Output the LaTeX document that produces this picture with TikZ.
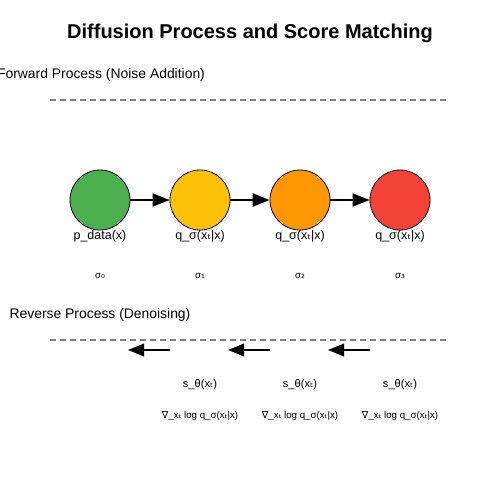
\documentclass[tikz,border=0pt]{standalone}
\usepackage{fontspec}
\setmainfont{Liberation Sans}
\newfontfamily\djv{DejaVu Sans}
\usetikzlibrary{arrows.meta}
\definecolor{cgreen}{HTML}{4CAF50}
\definecolor{cyellow}{HTML}{FFC107}
\definecolor{corange}{HTML}{FF9800}
\definecolor{cred}{HTML}{F44336}
\newcommand{\sbt}{{\djv ₜ}}
\newcommand{\nab}{{\djv ∇}}
\begin{document}
\begin{tikzpicture}[x=1pt,y=-1pt,
  statenode/.style={circle,draw=black,line width=0.8pt,minimum size=60pt,inner sep=0pt},
  distlabel/.style={font=\fontsize{12.5}{14}\selectfont,inner sep=0pt},
  siglabel/.style={font=\fontsize{9.7}{11}\selectfont,inner sep=0pt},
  scorelabel/.style={font=\fontsize{11.1}{13}\selectfont,inner sep=0pt},
  gradlabel/.style={font=\fontsize{9.7}{11}\selectfont,inner sep=0pt},
  seclabel/.style={font=\fontsize{13.9}{16}\selectfont,inner sep=0pt},
  sepline/.style={draw=black!50,line width=1.6pt,dash pattern=on 5.5pt off 4.5pt},
  fwdarrow/.style={line width=2pt,-{Triangle[length=17pt,width=13pt]}},
  revarrow/.style={line width=2pt,-{Triangle[length=16pt,width=12.5pt]}}]
\useasboundingbox (0,0) rectangle (500,500);
\node[font=\bfseries\fontsize{20}{24}\selectfont] (title) at (250,33) {Diffusion Process and Score Matching};
\node[seclabel] (fwd) at (101,75) {Forward Process (Noise Addition)};
\coordinate (d1a) at (50,100); \coordinate (d1b) at (446,100);
\draw[sepline] (d1a) -- (d1b);
\node[statenode,fill=cgreen] (n0) at (100,200) {};
\node[statenode,fill=cyellow] (n1) at (200,200) {};
\node[statenode,fill=corange] (n2) at (300,200) {};
\node[statenode,fill=cred] (n3) at (400,200) {};
\draw[fwdarrow] (n0) -- (n1);
\draw[fwdarrow] (n1) -- (n2);
\draw[fwdarrow] (n2) -- (n3);
\node[distlabel] (l0) at (100,236) {p\_data(x)};
\node[distlabel] (l1) at (200,236) {q\_σ(x\sbt|x)};
\node[distlabel] (l2) at (300,236) {q\_σ(x\sbt|x)};
\node[distlabel] (l3) at (400,236) {q\_σ(x\sbt|x)};
\node[siglabel] (s0) at (100,276) {σ{\djv ₀}};
\node[siglabel] (s1) at (200,276) {σ{\djv ₁}};
\node[siglabel] (s2) at (300,276) {σ{\djv ₂}};
\node[siglabel] (s3) at (400,276) {σ{\djv ₃}};
\node[seclabel] (rev) at (100,315) {Reverse Process (Denoising)};
\coordinate (d2a) at (50,340); \coordinate (d2b) at (446,340);
\draw[sepline] (d2a) -- (d2b);
\coordinate (r1s) at (170,350); \coordinate (r1e) at (128,350);
\coordinate (r2s) at (270,350); \coordinate (r2e) at (228,350);
\coordinate (r3s) at (370,350); \coordinate (r3e) at (328,350);
\draw[revarrow] (r1s) -- (r1e);
\draw[revarrow] (r2s) -- (r2e);
\draw[revarrow] (r3s) -- (r3e);
\node[scorelabel] (sc1) at (200,385) {s\_θ(x\sbt)};
\node[scorelabel] (sc2) at (300,385) {s\_θ(x\sbt)};
\node[scorelabel] (sc3) at (400,385) {s\_θ(x\sbt)};
\node[gradlabel] (g1) at (200,416) {\nab\_x\sbt{} log q\_σ(x\sbt|x)};
\node[gradlabel] (g2) at (300,416) {\nab\_x\sbt{} log q\_σ(x\sbt|x)};
\node[gradlabel] (g3) at (400,416) {\nab\_x\sbt{} log q\_σ(x\sbt|x)};
\end{tikzpicture}
\end{document}
